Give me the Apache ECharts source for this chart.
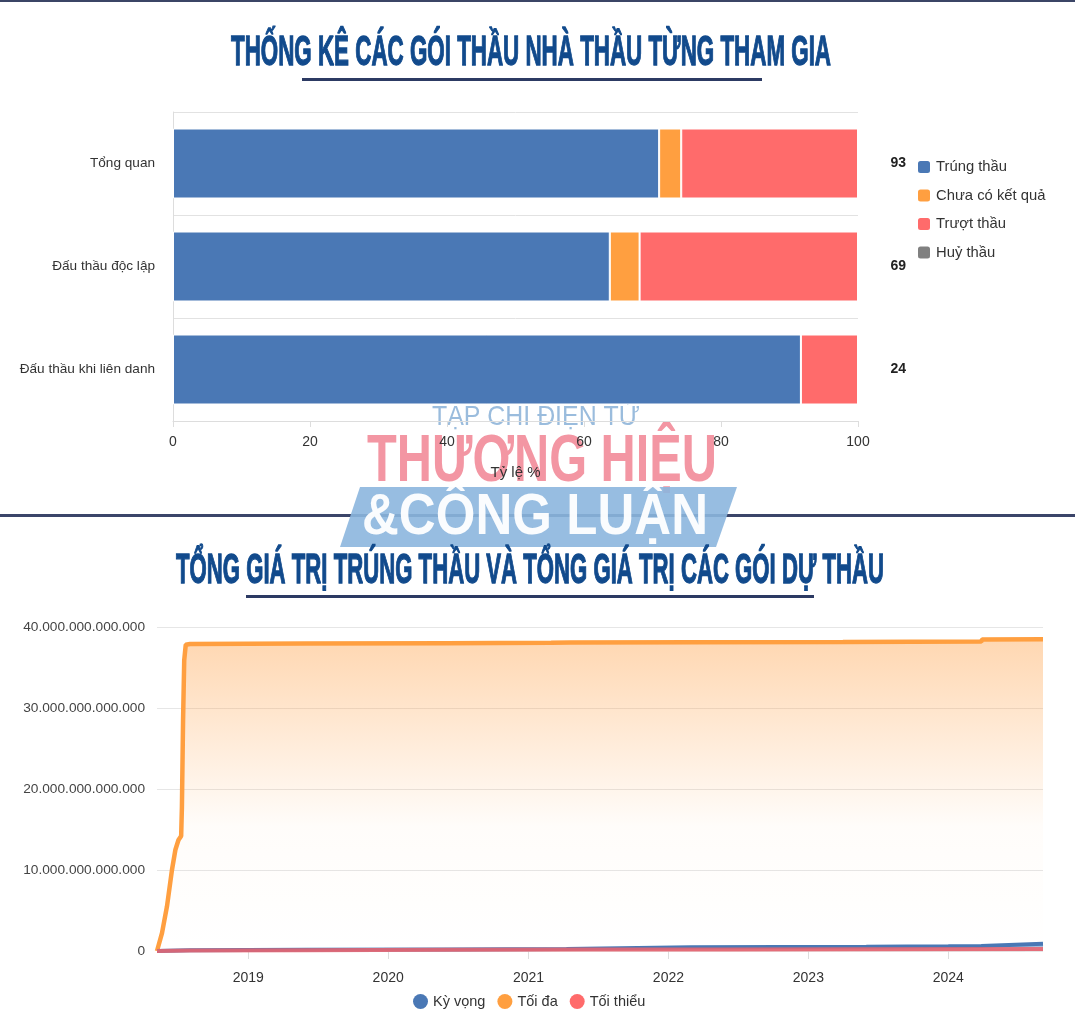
<!DOCTYPE html>
<html>
<head>
<meta charset="utf-8">
<script src="https://cdn.jsdelivr.net/npm/echarts@6/dist/echarts.min.js"></script>
<style>
html,body{margin:0;padding:0;background:#fff;}
#chart{width:1075px;height:1030px;}
</style>
</head>
<body>
<div id="chart"></div>
<script>
// ---------- DATA: chart 1 (stacked bars) ----------
const barCategories = ['Tổng quan', 'Đấu thầu độc lập', 'Đấu thầu khi liên danh'];
const wonCounts = [66, 44, 22];        // Trúng thầu
const pendingCounts = [3, 3, 0];       // Chưa có kết quả
const lostCounts = [24, 22, 2];        // Trượt thầu
const cancelledCounts = [0, 0, 0];     // Huỷ thầu
const barTotals = [93, 69, 24];
const barSeriesNames = ['Trúng thầu', 'Chưa có kết quả', 'Trượt thầu', 'Huỷ thầu'];
const pctTicks = [0, 20, 40, 60, 80, 100];

// ---------- DATA: chart 2 (values in nghìn tỷ đồng = 1e12) ----------
const lineSeriesNames = ['Kỳ vọng', 'Tối đa', 'Tối thiểu'];
const maxDates = ['2018-05-08','2018-05-21','2018-06-03','2018-06-16','2018-06-25','2018-07-03','2018-07-10','2018-07-12','2018-07-15','2018-07-18','2018-07-22','2018-08-02','2019-06-01','2020-06-01','2021-03-01','2021-04-20','2022-03-01','2023-04-01','2024-03-27','2024-03-29','2024-09-04'];
const maxValues = [0, 2.2, 5.5, 10.0, 12.5, 13.7, 14.2, 17.8, 28.5, 35.9, 37.8, 37.9, 37.95, 38.0, 38.05, 38.1, 38.12, 38.15, 38.2, 38.45, 38.5];
const expDates = ['2018-05-08','2018-08-01','2019-06-01','2020-06-01','2021-04-10','2021-04-15','2022-03-01','2023-06-01','2024-01-01','2024-03-27','2024-03-29','2024-09-04'];
const expValues = [0, 0.08, 0.14, 0.2, 0.24, 0.42, 0.46, 0.52, 0.58, 0.62, 0.85, 0.9];
const minDates = ['2018-05-08','2018-08-01','2019-06-01','2020-06-01','2021-06-01','2022-06-01','2023-06-01','2024-09-04'];
const minValues = [0, 0.05, 0.1, 0.14, 0.18, 0.2, 0.22, 0.26];
const yTicksTrillion = [0, 10, 20, 30, 40];
const UNIT = 1e12;
const axisStart = '2018-05-08';
const axisEnd = '2024-09-04';

// ---------- helpers ----------
const mctx = document.createElement('canvas').getContext('2d');
function fitScale(text, font, targetW) { mctx.font = font; return targetW / mctx.measureText(text).width; }
function dotted(v) { return String(Math.round(v)).replace(/\B(?=(\d{3})+(?!\d))/g, '.'); }
function pct(arr) { return arr.map((v, i) => v / barTotals[i] * 100); }
function pairs(dates, vals) { return dates.map((d, i) => [new Date(d + 'T00:00:00').getTime(), vals[i] * UNIT]); }

const FF = '"Liberation Sans", Arial, sans-serif';
const barColors = ['#4a78b5', '#ff9f40', '#ff6b6b', '#808080'];

function titleText(text, cx, cy, w, size, color, weight, z, scaleY, strokeW) {
  const font = (weight || 'bold') + ' ' + size + 'px ' + FF;
  const s = fitScale(text, font, w);
  const style = { text: text, font: font, fill: color, textAlign: 'center', textVerticalAlign: 'middle' };
  if (strokeW) { style.stroke = color; style.lineWidth = strokeW; }
  return { type: 'text', x: cx, y: cy, scaleX: s, scaleY: scaleY || 1, z: z || 10, style: style };
}

const chart = echarts.init(document.getElementById('chart'), null, { renderer: 'canvas' });

const barData = [pct(wonCounts), pct(pendingCounts), pct(lostCounts), pct(cancelledCounts)];

const option = {
  backgroundColor: '#ffffff',
  animation: false,
  textStyle: { fontFamily: FF },
  grid: [
    { left: 173, top: 112, width: 685, height: 309 },
    { left: 157, top: 627, width: 886, height: 324 }
  ],
  legend: [
    {
      data: barSeriesNames, orient: 'vertical', left: 916, top: 159, padding: 0,
      itemWidth: 14, itemHeight: 14, itemGap: 12.5, icon: 'roundRect',
      textStyle: { fontSize: 14.8, color: '#333' }
    },
    {
      data: lineSeriesNames, orient: 'horizontal', left: 413, top: 994, padding: 0,
      itemWidth: 15, itemHeight: 15, itemGap: 12, icon: 'circle',
      textStyle: { fontSize: 14.5, color: '#333' }
    }
  ],
  xAxis: [
    {
      type: 'value', gridIndex: 0, min: 0, max: 100, interval: 20, z: 20,
      axisLine: { show: true, lineStyle: { color: '#ddd' } },
      axisTick: { show: true, length: 6, lineStyle: { color: '#ddd' } },
      splitLine: { show: false },
      axisLabel: { fontSize: 14, color: '#333', margin: 14 },
      name: 'Tỷ lệ %', nameLocation: 'middle', nameGap: 44,
      nameTextStyle: { fontSize: 15, color: '#333' }
    },
    {
      type: 'time', gridIndex: 1,
      min: new Date(axisStart + 'T00:00:00').getTime(),
      max: new Date(axisEnd + 'T00:00:00').getTime(),
      minInterval: 365 * 86400000, maxInterval: 366 * 86400000,
      axisLine: { show: false },
      axisTick: { show: true, length: 8, lineStyle: { color: '#ddd' } },
      splitLine: { show: false },
      axisLabel: {
        fontSize: 14, color: '#333', margin: 20, showMinLabel: false, showMaxLabel: false,
        formatter: function (v) { const d = new Date(v); return (d.getMonth() === 0 && d.getDate() === 1) ? String(d.getFullYear()) : ''; }
      }
    }
  ],
  yAxis: [
    {
      type: 'category', gridIndex: 0, inverse: true, data: barCategories,
      axisLine: { show: true, lineStyle: { color: '#ddd' } },
      axisTick: { show: false },
      splitLine: { show: true, lineStyle: { color: '#e2e2e2' } },
      axisLabel: { fontSize: 13.6, color: '#333', margin: 18 }
    },
    {
      type: 'value', gridIndex: 1, min: yTicksTrillion[0] * UNIT, max: yTicksTrillion[yTicksTrillion.length - 1] * UNIT,
      interval: (yTicksTrillion[1] - yTicksTrillion[0]) * UNIT,
      axisLine: { show: false }, axisTick: { show: false },
      splitLine: { show: true, lineStyle: { color: '#e6e6e6' } },
      axisLabel: { fontSize: 13.7, color: '#444', margin: 12, formatter: dotted }
    }
  ],
  series: [
    ...barSeriesNames.map((name, k) => ({
      name: name, type: 'bar', stack: 'total', xAxisIndex: 0, yAxisIndex: 0,
      barWidth: 70, data: barData[k],
      itemStyle: { color: barColors[k], borderColor: '#fff', borderWidth: 1 },
      label: k === 3 ? {
        show: true, position: 'right', distance: 32,
        formatter: p => String(barTotals[p.dataIndex]),
        fontSize: 14, fontWeight: 'bold', color: '#222'
      } : { show: false }
    })),
    {
      name: 'Kỳ vọng', type: 'line', xAxisIndex: 1, yAxisIndex: 1,
      data: pairs(expDates, expValues), showSymbol: false, z: 3,
      itemStyle: { color: '#4a78b5' },
      lineStyle: { color: '#4a78b5', width: 4 },
      areaStyle: { color: 'rgba(74,120,181,0.7)' }
    },
    {
      name: 'Tối đa', type: 'line', xAxisIndex: 1, yAxisIndex: 1,
      data: pairs(maxDates, maxValues), showSymbol: false, z: 2,
      itemStyle: { color: '#ff9f40' },
      lineStyle: { color: '#ff9f40', width: 4.5 },
      areaStyle: {
        color: new echarts.graphic.LinearGradient(0, 0, 0, 1, [
          { offset: 0, color: 'rgba(255,160,70,0.6)' },
          { offset: 0.6, color: 'rgba(255,160,70,0.04)' },
          { offset: 1, color: 'rgba(255,160,70,0)' }
        ])
      }
    },
    {
      name: 'Tối thiểu', type: 'line', xAxisIndex: 1, yAxisIndex: 1,
      data: pairs(minDates, minValues), showSymbol: false, z: 4,
      itemStyle: { color: '#ff6b6b' },
      lineStyle: { color: 'rgba(235,100,110,0.85)', width: 4 },
      areaStyle: { color: 'rgba(255,107,107,0.45)' }
    }
  ],
  graphic: [
    // top border line
    { type: 'rect', shape: { x: 0, y: 0, width: 1075, height: 2 }, style: { fill: '#3b4566' }, z: 1 },
    // separator line
    { type: 'rect', shape: { x: 0, y: 514, width: 1075, height: 3 }, style: { fill: '#3b4569' }, z: 1 },
    // title 1 + underline
    titleText('THỐNG KÊ CÁC GÓI THẦU NHÀ THẦU TỪNG THAM GIA', 531, 53, 600, 40, '#114a8c', 'bold', 10, 1.05, 1.2),
    { type: 'rect', shape: { x: 302, y: 78, width: 460, height: 3 }, style: { fill: '#2c3a63' }, z: 10 },
    // title 2 + underline
    titleText('TỔNG GIÁ TRỊ TRÚNG THẦU VÀ TỔNG GIÁ TRỊ CÁC GÓI DỰ THẦU', 530, 571, 708, 40, '#114a8c', 'bold', 10, 1.05, 1.2),
    { type: 'rect', shape: { x: 246, y: 595, width: 568, height: 3 }, style: { fill: '#2c3a63' }, z: 10 },
    // watermark
    titleText('TẠP CHÍ ĐIỆN TỬ', 536, 417, 208, 28, 'rgba(120,165,210,0.75)', 'normal', 2),
    titleText('THƯƠNG HIỆU', 542, 463, 350, 66, 'rgba(238,110,128,0.72)', 'bold', 2),
    { type: 'polygon', shape: { points: [[360, 487], [737, 487], [716, 547], [340, 547]] }, style: { fill: 'rgba(140,182,222,0.9)' }, z: 2 },
    titleText('&CÔNG LUẬN', 535, 518, 346, 58, 'rgba(255,255,255,0.95)', 'bold', 3)
  ]
};

chart.setOption(option);
</script>
</body>
</html>
